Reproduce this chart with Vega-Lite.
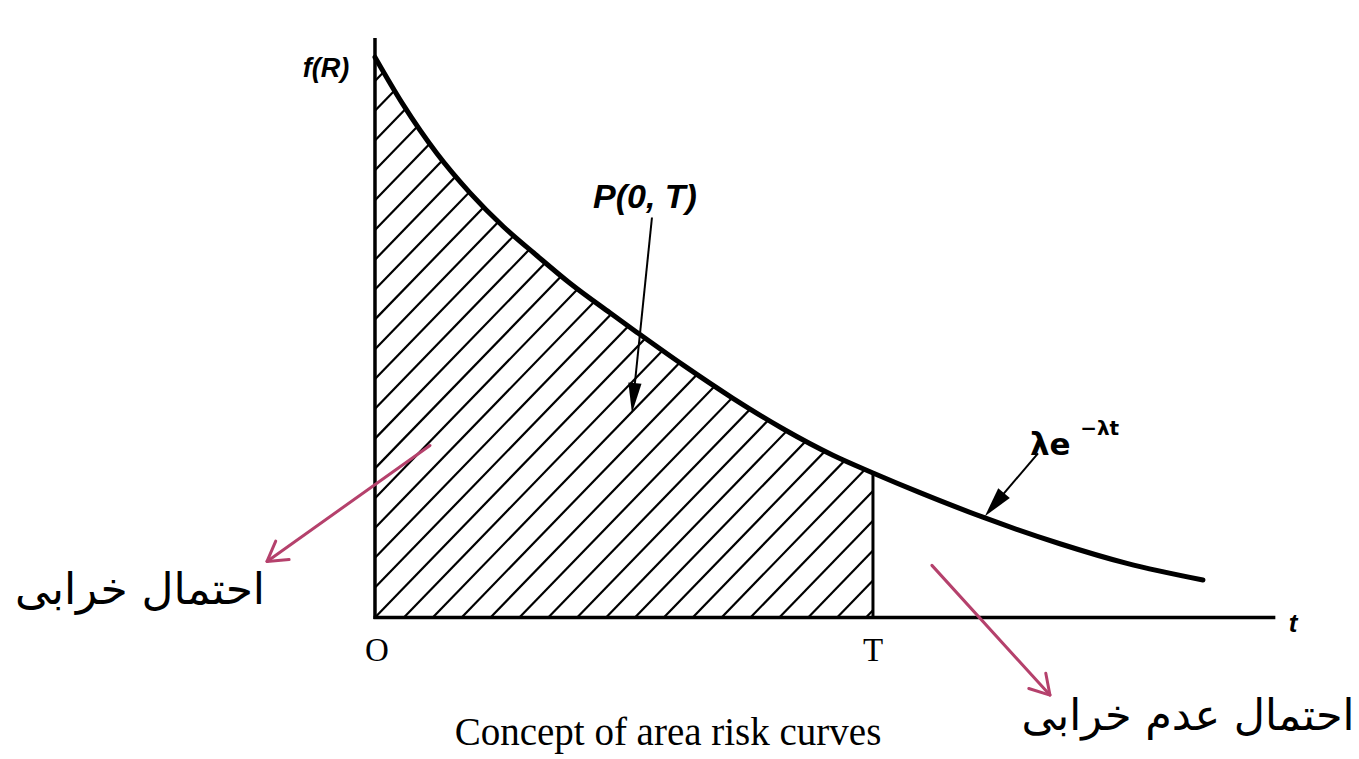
{
  "$schema": "https://vega.github.io/schema/vega-lite/v6.json",
  "width": 1359,
  "height": 759,
  "autosize": {"type": "fit", "contains": "padding"},
  "padding": 0,
  "background": "white",
  "config": {"view": {"stroke": null}},
  "datasets": {
    "curve": [
      {"t": 0, "f": 5.723},
      {"t": 0.281, "f": 5.241},
      {"t": 0.622, "f": 4.739},
      {"t": 0.954, "f": 4.337},
      {"t": 1.285, "f": 3.996},
      {"t": 1.627, "f": 3.695},
      {"t": 1.958, "f": 3.414},
      {"t": 2.359, "f": 3.112},
      {"t": 2.631, "f": 2.912},
      {"t": 3.092, "f": 2.58},
      {"t": 3.594, "f": 2.239},
      {"t": 4.096, "f": 1.928},
      {"t": 4.598, "f": 1.657},
      {"t": 5.0, "f": 1.476},
      {"t": 5.472, "f": 1.275},
      {"t": 6.104, "f": 1.024},
      {"t": 6.877, "f": 0.753},
      {"t": 7.55, "f": 0.552},
      {"t": 8.313, "f": 0.382}
    ],
    "hatch": [
      {"t1": 0, "f1": 5.481, "t2": 0.58, "f2": 6.09},
      {"t1": 0, "f1": 5.177, "t2": 0.87, "f2": 6.09},
      {"t1": 0, "f1": 4.872, "t2": 1.16, "f2": 6.09},
      {"t1": 0, "f1": 4.568, "t2": 1.45, "f2": 6.09},
      {"t1": 0, "f1": 4.263, "t2": 1.74, "f2": 6.09},
      {"t1": 0, "f1": 3.959, "t2": 2.03, "f2": 6.09},
      {"t1": 0, "f1": 3.654, "t2": 2.32, "f2": 6.09},
      {"t1": 0, "f1": 3.35, "t2": 2.61, "f2": 6.09},
      {"t1": 0, "f1": 3.045, "t2": 2.9, "f2": 6.09},
      {"t1": 0, "f1": 2.741, "t2": 3.19, "f2": 6.09},
      {"t1": 0, "f1": 2.436, "t2": 3.48, "f2": 6.09},
      {"t1": 0, "f1": 2.132, "t2": 3.77, "f2": 6.09},
      {"t1": 0, "f1": 1.827, "t2": 4.06, "f2": 6.09},
      {"t1": 0, "f1": 1.523, "t2": 4.35, "f2": 6.09},
      {"t1": 0, "f1": 1.218, "t2": 4.64, "f2": 6.09},
      {"t1": 0, "f1": 0.914, "t2": 4.93, "f2": 6.09},
      {"t1": 0, "f1": 0.609, "t2": 5, "f2": 5.859},
      {"t1": 0, "f1": 0.305, "t2": 5, "f2": 5.555},
      {"t1": 0, "f1": 0, "t2": 5, "f2": 5.25},
      {"t1": 0.29, "f1": 0, "t2": 5, "f2": 4.946},
      {"t1": 0.58, "f1": 0, "t2": 5, "f2": 4.641},
      {"t1": 0.87, "f1": 0, "t2": 5, "f2": 4.337},
      {"t1": 1.16, "f1": 0, "t2": 5, "f2": 4.032},
      {"t1": 1.45, "f1": 0, "t2": 5, "f2": 3.728},
      {"t1": 1.74, "f1": 0, "t2": 5, "f2": 3.423},
      {"t1": 2.03, "f1": 0, "t2": 5, "f2": 3.119},
      {"t1": 2.32, "f1": 0, "t2": 5, "f2": 2.814},
      {"t1": 2.61, "f1": 0, "t2": 5, "f2": 2.51},
      {"t1": 2.9, "f1": 0, "t2": 5, "f2": 2.205},
      {"t1": 3.19, "f1": 0, "t2": 5, "f2": 1.901},
      {"t1": 3.48, "f1": 0, "t2": 5, "f2": 1.596},
      {"t1": 3.77, "f1": 0, "t2": 5, "f2": 1.292},
      {"t1": 4.06, "f1": 0, "t2": 5, "f2": 0.987},
      {"t1": 4.35, "f1": 0, "t2": 5, "f2": 0.683},
      {"t1": 4.64, "f1": 0, "t2": 5, "f2": 0.378},
      {"t1": 4.93, "f1": 0, "t2": 5, "f2": 0.074}
    ]
  },
  "layer": [
    {
      "data": {"name": "hatch"},
      "mark": {"type": "rule", "stroke": "black", "strokeWidth": 2.2},
      "encoding": {
        "x": {"field": "t1", "type": "quantitative", "scale": {"domain": [-3.765, 9.88], "nice": false, "zero": false}, "axis": null},
        "y": {"field": "f1", "type": "quantitative", "scale": {"domain": [-1.446, 6.175], "nice": false, "zero": false}, "axis": null},
        "x2": {"field": "t2"},
        "y2": {"field": "f2"}
      }
    },
    {
      "data": {"name": "curve"},
      "transform": [{"filter": "datum.t <= 5.5"}],
      "mark": {"type": "area", "fill": "white", "interpolate": "monotone", "opacity": 1},
      "encoding": {
        "x": {"field": "t", "type": "quantitative", "scale": {"domain": [-3.765, 9.88], "nice": false, "zero": false}, "axis": null},
        "y": {"field": "f", "type": "quantitative", "scale": {"domain": [-1.446, 6.175], "nice": false, "zero": false}, "axis": null},
        "y2": {"datum": 6.3}
      }
    },
    {
      "data": {"values": [{}]},
      "mark": {"type": "rule", "stroke": "black", "strokeWidth": 3.5},
      "encoding": {"x": {"datum": 0}, "y": {"datum": -0.015}, "y2": {"datum": 5.92}}
    },
    {
      "data": {"values": [{}]},
      "mark": {"type": "rule", "stroke": "black", "strokeWidth": 3.5},
      "encoding": {"x": {"datum": -0.015}, "x2": {"datum": 9.04}, "y": {"datum": 0}}
    },
    {
      "data": {"values": [{}]},
      "mark": {"type": "rule", "stroke": "black", "strokeWidth": 3},
      "encoding": {"x": {"datum": 5}, "y": {"datum": 0}, "y2": {"datum": 1.476}}
    },
    {
      "data": {"name": "curve"},
      "mark": {"type": "line", "stroke": "black", "strokeWidth": 5, "interpolate": "monotone", "strokeCap": "round"},
      "encoding": {
        "x": {"field": "t", "type": "quantitative"},
        "y": {"field": "f", "type": "quantitative"}
      }
    },
    {
      "data": {"values": [{}]},
      "mark": {"type": "rule", "stroke": "black", "strokeWidth": 2},
      "encoding": {"x": {"datum": 2.781}, "y": {"datum": 4.086}, "x2": {"datum": 2.6}, "y2": {"datum": 2.3}}
    },
    {
      "data": {"values": [{}]},
      "mark": {"type": "point", "shape": "M 0 0 L -1 -0.22 L -1 0.22 Z", "size": 3600, "angle": 95.7, "filled": true, "fill": "black", "opacity": 1, "strokeWidth": 0},
      "encoding": {"x": {"datum": 2.58}, "y": {"datum": 2.088}}
    },
    {
      "data": {"values": [{}]},
      "mark": {"type": "rule", "stroke": "black", "strokeWidth": 2},
      "encoding": {"x": {"datum": 6.657}, "y": {"datum": 1.677}, "x2": {"datum": 6.2}, "y2": {"datum": 1.13}}
    },
    {
      "data": {"values": [{}]},
      "mark": {"type": "point", "shape": "M 0 0 L -1 -0.25 L -1 0.25 Z", "size": 3600, "angle": 129.6, "filled": true, "fill": "black", "opacity": 1, "strokeWidth": 0},
      "encoding": {"x": {"datum": 6.124}, "y": {"datum": 1.034}}
    },
    {
      "data": {"values": [{}]},
      "mark": {"type": "rule", "stroke": "#b5416c", "strokeWidth": 3, "strokeCap": "round"},
      "encoding": {"x": {"datum": 0.552}, "y": {"datum": 1.757}, "x2": {"datum": -1.084}, "y2": {"datum": 0.572}}
    },
    {
      "data": {"values": [{}]},
      "mark": {"type": "point", "shape": "M -1 -0.6 L 0 0 L -1 0.6", "size": 1444, "angle": 144.1, "filled": false, "stroke": "#b5416c", "strokeWidth": 3, "opacity": 1, "strokeCap": "round", "strokeJoin": "round"},
      "encoding": {"x": {"datum": -1.084}, "y": {"datum": 0.572}}
    },
    {
      "data": {"values": [{}]},
      "mark": {"type": "rule", "stroke": "#b5416c", "strokeWidth": 3, "strokeCap": "round"},
      "encoding": {"x": {"datum": 5.592}, "y": {"datum": 0.532}, "x2": {"datum": 6.777}, "y2": {"datum": -0.793}}
    },
    {
      "data": {"values": [{}]},
      "mark": {"type": "point", "shape": "M -1 -0.6 L 0 0 L -1 0.6", "size": 1444, "angle": 48.2, "filled": false, "stroke": "#b5416c", "strokeWidth": 3, "opacity": 1, "strokeCap": "round", "strokeJoin": "round"},
      "encoding": {"x": {"datum": 6.777}, "y": {"datum": -0.793}}
    },
    {
      "data": {"values": [{}]},
      "mark": {"type": "text", "text": "f(R)", "font": "Liberation Sans", "fontSize": 27, "fontWeight": "bold", "fontStyle": "italic", "align": "center", "baseline": "middle", "fill": "black"},
      "encoding": {"x": {"datum": -0.492}, "y": {"datum": 5.602}}
    },
    {
      "data": {"values": [{}]},
      "mark": {"type": "text", "text": "P(0,  T)", "font": "Liberation Sans", "fontSize": 34, "fontWeight": "bold", "fontStyle": "italic", "align": "center", "baseline": "middle", "fill": "black"},
      "encoding": {"x": {"datum": 2.711}, "y": {"datum": 4.287}}
    },
    {
      "data": {"values": [{}]},
      "mark": {"type": "text", "text": "λe", "font": "DejaVu Sans", "fontSize": 31, "fontWeight": "bold", "align": "center", "baseline": "middle", "fill": "black"},
      "encoding": {"x": {"datum": 6.78}, "y": {"datum": 1.75}}
    },
    {
      "data": {"values": [{}]},
      "mark": {"type": "text", "text": "−λt", "font": "DejaVu Sans", "fontSize": 20, "fontWeight": "bold", "align": "left", "baseline": "middle", "fill": "black"},
      "encoding": {"x": {"datum": 7.08}, "y": {"datum": 1.93}}
    },
    {
      "data": {"values": [{}]},
      "mark": {"type": "text", "text": "t", "font": "Liberation Sans", "fontSize": 26, "fontWeight": "bold", "fontStyle": "italic", "align": "center", "baseline": "middle", "fill": "black"},
      "encoding": {"x": {"datum": 9.217}, "y": {"datum": -0.07}}
    },
    {
      "data": {"values": [{}]},
      "mark": {"type": "text", "text": "O", "font": "Liberation Serif", "fontSize": 33, "align": "center", "baseline": "middle", "fill": "black"},
      "encoding": {"x": {"datum": 0.02}, "y": {"datum": -0.341}}
    },
    {
      "data": {"values": [{}]},
      "mark": {"type": "text", "text": "T", "font": "Liberation Serif", "fontSize": 33, "align": "center", "baseline": "middle", "fill": "black"},
      "encoding": {"x": {"datum": 5.0}, "y": {"datum": -0.341}}
    },
    {
      "data": {"values": [{}]},
      "mark": {"type": "text", "text": "Concept of area risk curves", "font": "Liberation Serif", "fontSize": 39, "align": "center", "baseline": "middle", "fill": "black"},
      "encoding": {"x": {"datum": 2.942}, "y": {"datum": -1.185}}
    },
    {
      "data": {"values": [{}]},
      "mark": {"type": "text", "text": "احتمال خرابی", "font": "DejaVu Sans", "fontSize": 44, "align": "center", "baseline": "middle", "fill": "black"},
      "encoding": {"x": {"datum": -2.359}, "y": {"datum": 0.27}}
    },
    {
      "data": {"values": [{}]},
      "mark": {"type": "text", "text": "احتمال عدم خرابی", "font": "DejaVu Sans", "fontSize": 43, "align": "center", "baseline": "middle", "fill": "black"},
      "encoding": {"x": {"datum": 8.163}, "y": {"datum": -1.02}}
    }
  ]
}
